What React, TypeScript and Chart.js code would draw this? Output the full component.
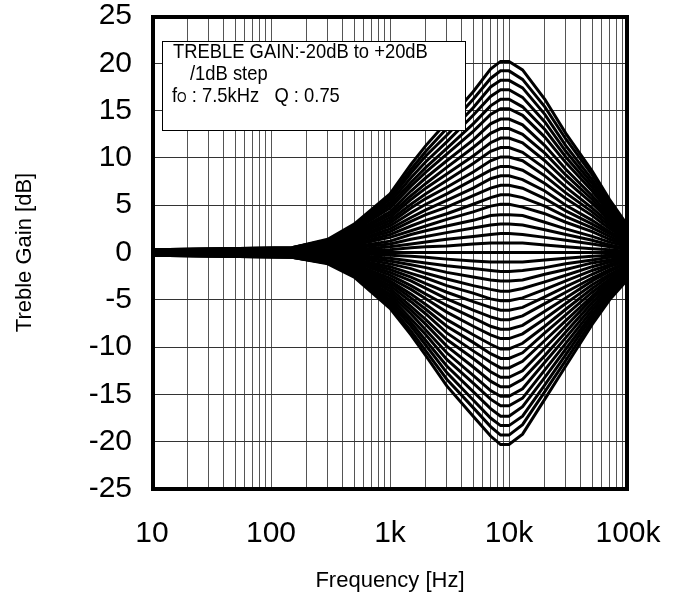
import React, { useEffect, useRef } from 'react';
import { Chart, registerables } from 'chart.js';

Chart.register(...registerables);

const frequencies = [10, 150, 300, 500, 1000, 1500, 2000, 3000, 5000, 7000, 8500, 10000, 13000, 20000, 30000, 50000, 70000, 100000];

// Boost settings +1 dB ... +20 dB
const boostCurves = [
  [0.0, 0.0, 0.1, 0.2, 0.3, 0.5, 0.6, 0.7, 0.9, 1.0, 1.0, 1.0, 1.0, 0.8, 0.6, 0.4, 0.3, 0.1],
  [0.0, 0.1, 0.1, 0.3, 0.6, 0.9, 1.1, 1.4, 1.7, 1.9, 2.0, 2.0, 1.9, 1.6, 1.3, 0.9, 0.6, 0.3],
  [0.0, 0.1, 0.2, 0.5, 0.9, 1.4, 1.7, 2.1, 2.6, 2.9, 3.0, 3.0, 2.9, 2.4, 1.9, 1.3, 0.8, 0.4],
  [0.1, 0.1, 0.3, 0.6, 1.2, 1.9, 2.3, 2.8, 3.4, 3.9, 4.0, 4.0, 3.9, 3.2, 2.5, 1.7, 1.1, 0.6],
  [0.1, 0.1, 0.4, 0.8, 1.6, 2.3, 2.8, 3.5, 4.3, 4.9, 5.1, 5.1, 4.8, 4.1, 3.2, 2.2, 1.4, 0.7],
  [0.1, 0.2, 0.4, 0.9, 1.9, 2.8, 3.4, 4.1, 5.1, 5.8, 6.1, 6.1, 5.8, 4.9, 3.8, 2.6, 1.7, 0.8],
  [0.1, 0.2, 0.5, 1.1, 2.2, 3.3, 4.0, 4.8, 6.0, 6.8, 7.1, 7.1, 6.8, 5.7, 4.4, 3.0, 2.0, 1.0],
  [0.1, 0.2, 0.6, 1.2, 2.5, 3.7, 4.5, 5.5, 6.8, 7.8, 8.1, 8.1, 7.7, 6.5, 5.0, 3.4, 2.2, 1.1],
  [0.1, 0.2, 0.6, 1.4, 2.8, 4.2, 5.1, 6.2, 7.7, 8.7, 9.1, 9.1, 8.7, 7.3, 5.7, 3.9, 2.5, 1.3],
  [0.2, 0.3, 0.7, 1.5, 3.1, 4.7, 5.7, 6.9, 8.5, 9.7, 10.1, 10.1, 9.7, 8.1, 6.3, 4.3, 2.8, 1.4],
  [0.2, 0.3, 0.8, 1.7, 3.4, 5.1, 6.2, 7.6, 9.4, 10.7, 11.1, 11.1, 10.6, 8.9, 6.9, 4.7, 3.1, 1.5],
  [0.2, 0.3, 0.8, 1.8, 3.7, 5.6, 6.8, 8.3, 10.2, 11.6, 12.1, 12.1, 11.6, 9.7, 7.6, 5.2, 3.4, 1.7],
  [0.2, 0.3, 0.9, 2.0, 4.0, 6.0, 7.3, 9.0, 11.1, 12.6, 13.1, 13.1, 12.5, 10.5, 8.2, 5.6, 3.6, 1.8],
  [0.2, 0.4, 1.0, 2.1, 4.3, 6.5, 7.9, 9.7, 11.9, 13.6, 14.1, 14.1, 13.5, 11.3, 8.8, 6.0, 3.9, 2.0],
  [0.2, 0.4, 1.1, 2.3, 4.7, 7.0, 8.5, 10.4, 12.8, 14.6, 15.2, 15.2, 14.5, 12.2, 9.5, 6.5, 4.2, 2.1],
  [0.2, 0.4, 1.1, 2.4, 5.0, 7.4, 9.0, 11.0, 13.6, 15.5, 16.2, 16.2, 15.4, 13.0, 10.1, 6.9, 4.5, 2.2],
  [0.3, 0.4, 1.2, 2.6, 5.3, 7.9, 9.6, 11.7, 14.5, 16.5, 17.2, 17.2, 16.4, 13.8, 10.7, 7.3, 4.8, 2.4],
  [0.3, 0.5, 1.3, 2.7, 5.6, 8.4, 10.2, 12.4, 15.3, 17.5, 18.2, 18.2, 17.4, 14.6, 11.3, 7.7, 5.0, 2.5],
  [0.3, 0.5, 1.3, 2.9, 5.9, 8.8, 10.7, 13.1, 16.2, 18.4, 19.2, 19.2, 18.3, 15.4, 12.0, 8.2, 5.3, 2.7],
  [0.3, 0.5, 1.4, 3.0, 6.2, 9.3, 11.3, 13.8, 17.0, 19.4, 20.2, 20.2, 19.3, 16.2, 12.6, 8.6, 5.6, 2.8],
];

// Flat setting 0 dB
const flatCurve = [0, 0, 0, 0, 0, 0, 0, 0, 0, 0, 0, 0, 0, 0, 0, 0, 0, 0];

// Cut settings -1 dB ... -20 dB
const cutCurves = [
  [0.0, 0.0, -0.1, -0.1, -0.3, -0.4, -0.5, -0.7, -0.9, -1.0, -1.0, -1.0, -1.0, -0.8, -0.6, -0.4, -0.3, -0.1],
  [0.0, -0.1, -0.1, -0.3, -0.6, -0.9, -1.1, -1.4, -1.7, -1.9, -2.0, -2.0, -1.9, -1.6, -1.2, -0.8, -0.5, -0.3],
  [0.0, -0.1, -0.2, -0.4, -0.9, -1.3, -1.6, -2.1, -2.6, -2.9, -3.0, -3.0, -2.9, -2.3, -1.8, -1.1, -0.8, -0.4],
  [-0.1, -0.1, -0.2, -0.5, -1.2, -1.7, -2.2, -2.8, -3.5, -3.9, -4.1, -4.1, -3.8, -3.1, -2.4, -1.5, -1.0, -0.6],
  [-0.1, -0.1, -0.3, -0.7, -1.5, -2.2, -2.7, -3.5, -4.3, -4.9, -5.1, -5.1, -4.8, -3.9, -3.0, -1.9, -1.3, -0.7],
  [-0.1, -0.2, -0.4, -0.8, -1.8, -2.6, -3.3, -4.2, -5.2, -5.8, -6.1, -6.1, -5.8, -4.7, -3.6, -2.3, -1.5, -0.8],
  [-0.1, -0.2, -0.4, -0.9, -2.1, -3.0, -3.8, -4.9, -6.1, -6.8, -7.1, -7.1, -6.7, -5.4, -4.2, -2.7, -1.8, -1.0],
  [-0.1, -0.2, -0.5, -1.0, -2.4, -3.5, -4.4, -5.6, -6.9, -7.8, -8.1, -8.1, -7.7, -6.2, -4.8, -3.0, -2.0, -1.1],
  [-0.1, -0.2, -0.5, -1.2, -2.7, -3.9, -4.9, -6.3, -7.8, -8.7, -9.1, -9.1, -8.6, -7.0, -5.4, -3.4, -2.3, -1.3],
  [-0.2, -0.3, -0.6, -1.3, -3.0, -4.4, -5.5, -7.1, -8.7, -9.7, -10.2, -10.2, -9.6, -7.8, -6.0, -3.8, -2.5, -1.4],
  [-0.2, -0.3, -0.7, -1.4, -3.2, -4.8, -6.0, -7.8, -9.5, -10.7, -11.2, -11.2, -10.6, -8.5, -6.6, -4.2, -2.8, -1.5],
  [-0.2, -0.3, -0.7, -1.6, -3.5, -5.2, -6.5, -8.5, -10.4, -11.6, -12.2, -12.2, -11.5, -9.3, -7.2, -4.6, -3.0, -1.7],
  [-0.2, -0.3, -0.8, -1.7, -3.8, -5.7, -7.1, -9.2, -11.2, -12.6, -13.2, -13.2, -12.5, -10.1, -7.8, -4.9, -3.3, -1.8],
  [-0.2, -0.4, -0.8, -1.8, -4.1, -6.1, -7.6, -9.9, -12.1, -13.6, -14.2, -14.2, -13.4, -10.9, -8.4, -5.3, -3.5, -2.0],
  [-0.2, -0.4, -0.9, -2.0, -4.4, -6.5, -8.2, -10.6, -13.0, -14.6, -15.2, -15.2, -14.4, -11.6, -9.0, -5.7, -3.8, -2.1],
  [-0.2, -0.4, -1.0, -2.1, -4.7, -7.0, -8.7, -11.3, -13.8, -15.5, -16.2, -16.2, -15.4, -12.4, -9.6, -6.1, -4.0, -2.2],
  [-0.3, -0.4, -1.0, -2.2, -5.0, -7.4, -9.3, -12.0, -14.7, -16.5, -17.3, -17.3, -16.3, -13.2, -10.2, -6.5, -4.3, -2.4],
  [-0.3, -0.5, -1.1, -2.3, -5.3, -7.8, -9.8, -12.7, -15.6, -17.5, -18.3, -18.3, -17.3, -14.0, -10.8, -6.8, -4.5, -2.5],
  [-0.3, -0.5, -1.1, -2.5, -5.6, -8.3, -10.4, -13.4, -16.4, -18.4, -19.3, -19.3, -18.2, -14.7, -11.4, -7.2, -4.8, -2.7],
  [-0.3, -0.5, -1.2, -2.6, -5.9, -8.7, -10.9, -14.1, -17.3, -19.4, -20.3, -20.3, -19.2, -15.5, -12.0, -7.6, -5.0, -2.8],
];

const xDecades = [10, 100, 1000, 10000, 100000];
const xTickLabels = ['10', '100', '1k', '10k', '100k'];
const xMinorMultipliers = [1, 2, 3, 4, 5, 6, 7, 8, 9];
const yMin = -25;
const yMax = 25;
const yStep = 5;

const legendTitle = 'TREBLE GAIN:-20dB to +20dB';
const legendStep = '/1dB step';
const legendFreqPrefix = 'f';
const legendFreqSub = 'O';
const legendFreqRest = ' : 7.5kHz   Q : 0.75';

const xTitle = 'Frequency [Hz]';
const yTitle = 'Treble Gain [dB]';

const FONT = '"Liberation Sans", Arial, sans-serif';

function drawCondensed(ctx: CanvasRenderingContext2D, text: string, x: number, y: number, size: number, sx: number) {
  ctx.save();
  ctx.font = `${size}px ${FONT}`;
  const w = ctx.measureText(text).width * sx;
  ctx.translate(x, y);
  ctx.scale(sx, 1);
  ctx.fillText(text, 0, 0);
  ctx.restore();
  return w;
}

const overlayPlugin = {
  id: 'overlay',
  afterDatasetsDraw(chart: any) {
    const ctx = chart.ctx as CanvasRenderingContext2D;
    const { left, top, right, bottom } = chart.chartArea;
    ctx.save();
    // legend box
    const bx = left + 10;
    const by = top + 25;
    const bw = 303;
    const bh = 89;
    ctx.fillStyle = '#ffffff';
    ctx.fillRect(bx, by, bw, bh);
    ctx.strokeStyle = '#000000';
    ctx.lineWidth = 1;
    ctx.strokeRect(bx + 0.5, by + 0.5, bw, bh);

    ctx.fillStyle = '#000000';
    ctx.textBaseline = 'alphabetic';
    ctx.textAlign = 'left';
    const sx = 0.875;
    drawCondensed(ctx, legendTitle, bx + 11, by + 17, 21, sx);
    drawCondensed(ctx, legendStep, bx + 28, by + 39, 21, sx);
    let tx = bx + 10;
    const ty = by + 61;
    tx += drawCondensed(ctx, legendFreqPrefix, tx, ty, 21, sx);
    tx += drawCondensed(ctx, legendFreqSub, tx, ty, 14, sx);
    drawCondensed(ctx, legendFreqRest, tx, ty, 21, sx);

    // thick plot frame
    ctx.lineWidth = 4;
    ctx.strokeRect(left + 1, top + 1, right - left - 2, bottom - top - 1);
    ctx.restore();
  },
};

export default function App() {
  const canvasRef = useRef<HTMLCanvasElement | null>(null);

  useEffect(() => {
    const canvas = canvasRef.current;
    if (!canvas) return;

    const rows = [...cutCurves.slice().reverse(), flatCurve, ...boostCurves];
    const datasets = rows.map((row) => ({
      data: frequencies.map((f, i) => ({ x: f, y: row[i] })),
      borderColor: '#000000',
      borderWidth: 3,
      pointRadius: 0,
      fill: false,
      tension: 0,
    }));

    const gridValues: number[] = [];
    xDecades.forEach((d, i) => {
      if (i === xDecades.length - 1) {
        gridValues.push(d);
      } else {
        xMinorMultipliers.forEach((m) => gridValues.push(d * m));
      }
    });

    const chart = new Chart(canvas, {
      type: 'line',
      data: { datasets },
      options: {
        responsive: false,
        animation: false,
        devicePixelRatio: 1,
        parsing: false,
        layout: { padding: { left: 0, right: 49, top: 16, bottom: 0 } },
        plugins: {
          legend: { display: false },
          tooltip: { enabled: false },
        },
        scales: {
          x: {
            type: 'logarithmic',
            min: 10,
            max: 100000,
            afterBuildTicks: (scale: any) => {
              scale.ticks = gridValues.map((v) => ({ value: v }));
            },
            afterFit: (scale: any) => {
              scale.height = 113;
              scale.paddingLeft = 0;
              scale.paddingRight = 0;
            },
            grid: { color: '#555555', lineWidth: 1, drawTicks: false },
            border: { display: false },
            ticks: {
              autoSkip: false,
              maxRotation: 0,
              padding: 27,
              color: '#000000',
              font: { family: FONT, size: 30 },
              callback: (value: any) => {
                const idx = xDecades.indexOf(Number(value));
                return idx >= 0 ? xTickLabels[idx] : '';
              },
            },
            title: {
              display: true,
              text: xTitle,
              color: '#000000',
              font: { family: FONT, size: 22 },
              padding: { top: 0, bottom: 8 },
            },
          },
          y: {
            type: 'linear',
            min: yMin,
            max: yMax,
            afterFit: (scale: any) => {
              scale.width = 152;
              scale.paddingTop = 0;
              scale.paddingBottom = 0;
            },
            grid: { color: '#333333', lineWidth: 1, drawTicks: false },
            border: { display: false },
            ticks: {
              stepSize: yStep,
              padding: 20,
              color: '#000000',
              font: { family: FONT, size: 30 },
            },
            title: {
              display: true,
              text: yTitle,
              color: '#000000',
              font: { family: FONT, size: 22 },
              padding: { top: 12, bottom: 0 },
            },
          },
        },
      },
      plugins: [overlayPlugin],
    } as any);

    return () => {
      chart.destroy();
    };
  }, []);

  return (
    <div style={{ position: 'absolute', left: 0, top: 0, width: 677, height: 602, background: '#ffffff' }}>
      <canvas ref={canvasRef} width={677} height={602} style={{ width: 677, height: 602, display: 'block' }} />
    </div>
  );
}
